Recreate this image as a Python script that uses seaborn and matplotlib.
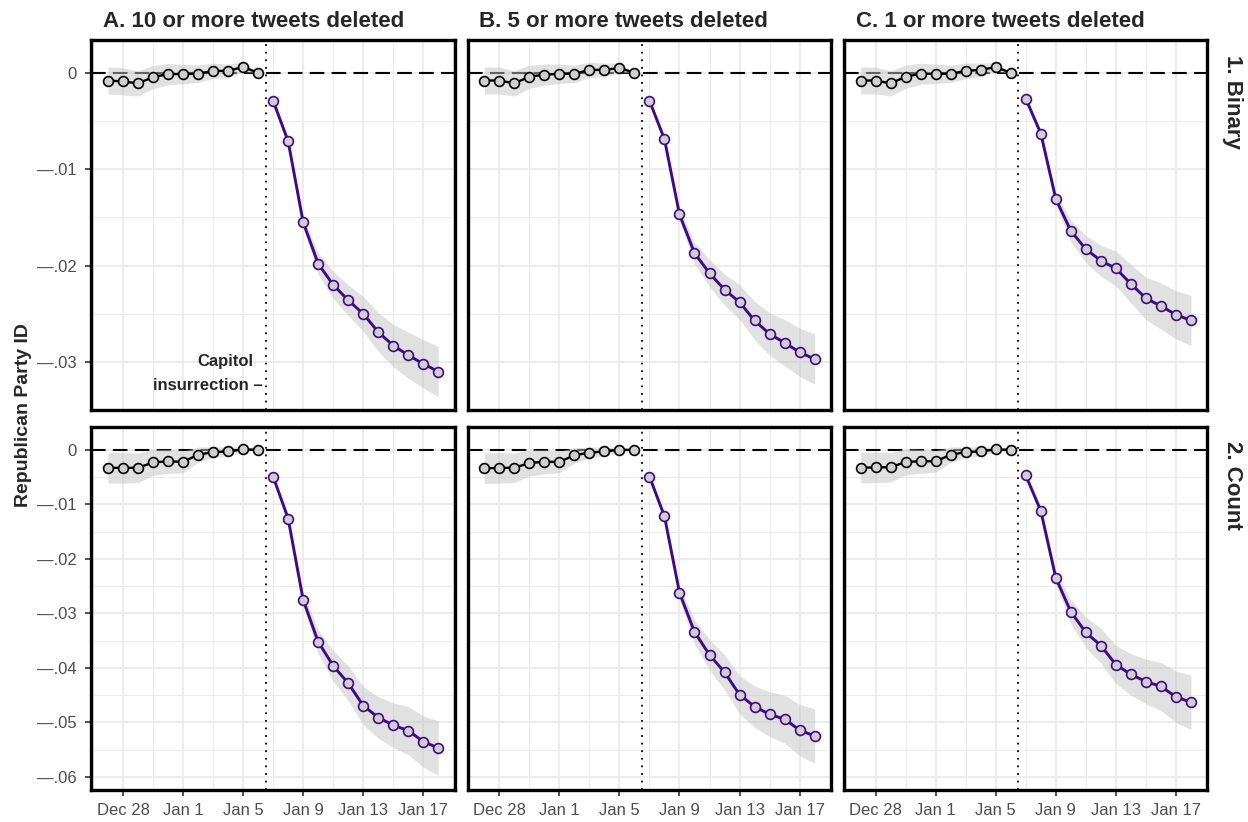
import matplotlib
matplotlib.use('Agg')
import matplotlib.pyplot as plt
import numpy as np
import pandas as pd
import seaborn as sns

# ---- data -------------------------------------------------------------
pre_dates = pd.date_range('2020-12-27', '2021-01-06')
post_dates = pd.date_range('2021-01-07', '2021-01-18')

col_titles = ['A. 10 or more tweets deleted', 'B. 5 or more tweets deleted', 'C. 1 or more tweets deleted']
row_titles = ['1. Binary', '2. Count']

# 1. Binary, pre-period (Dec 27 - Jan 6)
pre_binary_10 = [-0.0008, -0.0009, -0.0011, -0.00045, -0.00013, -0.00013, -0.0001, 0.0002, 0.0002, 0.0006, 0.0]
pre_binary_5 = [-0.0008, -0.0008, -0.0011, -0.0004, -0.0002, -0.0001, -0.0001, 0.0003, 0.0003, 0.0005, 0.0]
pre_binary_1 = [-0.0008, -0.0008, -0.0011, -0.0004, -0.0001, -0.0001, -0.0001, 0.0002, 0.0003, 0.0006, 0.0]
# 1. Binary, post-period (Jan 7 - Jan 18)
post_binary_10 = [-0.0029, -0.0071, -0.0155, -0.0198, -0.0220, -0.0236, -0.0250, -0.0269, -0.0283, -0.0293, -0.0302, -0.0310]
post_binary_5 = [-0.0029, -0.0069, -0.0147, -0.0187, -0.0208, -0.0225, -0.0238, -0.0257, -0.0271, -0.0280, -0.0290, -0.0297]
post_binary_1 = [-0.0027, -0.0063, -0.0131, -0.0164, -0.0183, -0.0195, -0.0203, -0.0219, -0.0234, -0.0242, -0.0251, -0.0257]

# 2. Count
pre_count_10 = [-0.0033, -0.0033, -0.0033, -0.0023, -0.0021, -0.0022, -0.0009, -0.0004, -0.0003, 0.0001, 0.0]
pre_count_5 = [-0.0034, -0.0033, -0.0033, -0.0024, -0.0022, -0.0022, -0.0010, -0.0005, -0.0003, 0.0000, 0.0]
pre_count_1 = [-0.0033, -0.0032, -0.0032, -0.0022, -0.0021, -0.0021, -0.0009, -0.0004, -0.0003, 0.0001, 0.0]
post_count_10 = [-0.0049, -0.0126, -0.0275, -0.0352, -0.0396, -0.0428, -0.0469, -0.0491, -0.0505, -0.0515, -0.0535, -0.0547]
post_count_5 = [-0.0049, -0.0122, -0.0262, -0.0334, -0.0376, -0.0408, -0.0449, -0.0471, -0.0485, -0.0494, -0.0514, -0.0525]
post_count_1 = [-0.0047, -0.0112, -0.0235, -0.0297, -0.0335, -0.0359, -0.0394, -0.0412, -0.0425, -0.0434, -0.0453, -0.0463]

# half-width of the 95% CI band
pre_ci_binary = [0.0014, 0.0014, 0.0013, 0.0012, 0.0011, 0.0010, 0.0009, 0.0008, 0.0007, 0.0005, 0.0]
post_ci_binary = [0.0002, 0.0004, 0.0006, 0.0011, 0.0014, 0.0016, 0.0018, 0.0020, 0.0022, 0.0024, 0.0025, 0.0026]
pre_ci_count = [0.0028, 0.0028, 0.0027, 0.0024, 0.0022, 0.0020, 0.0014, 0.0010, 0.0008, 0.0005, 0.0]
post_ci_count = [0.0004, 0.0008, 0.0012, 0.0022, 0.0028, 0.0032, 0.0035, 0.0038, 0.0041, 0.0044, 0.0047, 0.0050]

pre_vals = [[pre_binary_10, pre_binary_5, pre_binary_1], [pre_count_10, pre_count_5, pre_count_1]]
post_vals = [[post_binary_10, post_binary_5, post_binary_1], [post_count_10, post_count_5, post_count_1]]
pre_ci = [pre_ci_binary, pre_ci_count]
post_ci = [post_ci_binary, post_ci_count]

x_ticks = pd.to_datetime(['2020-12-28', '2021-01-01', '2021-01-05', '2021-01-09', '2021-01-13', '2021-01-17'])
x_minor = pd.to_datetime(['2020-12-26', '2020-12-30', '2021-01-03', '2021-01-07', '2021-01-11', '2021-01-15', '2021-01-19'])
x_labels = ['Dec 28', 'Jan 1', 'Jan 5', 'Jan 9', 'Jan 13', 'Jan 17']
y_ticks = [[0, -0.01, -0.02, -0.03], [0, -0.01, -0.02, -0.03, -0.04, -0.05, -0.06]]
y_labels = [['0', '\u2014.01', '\u2014.02', '\u2014.03'],
            ['0', '\u2014.01', '\u2014.02', '\u2014.03', '\u2014.04', '\u2014.05', '\u2014.06']]
y_limits = [(-0.0350, 0.0034), (-0.0624, 0.0042)]

rows = []
for r, measure in enumerate(row_titles):
    for c, thr in enumerate(col_titles):
        for d, v, h in zip(pre_dates, pre_vals[r][c], pre_ci[r]):
            rows.append(dict(date=d, est=v, lo=v - h, hi=v + h, period='pre', row=r, col=c))
        for d, v, h in zip(post_dates, post_vals[r][c], post_ci[r]):
            rows.append(dict(date=d, est=v, lo=v - h, hi=v + h, period='post', row=r, col=c))
df = pd.DataFrame(rows)

# ---- style ------------------------------------------------------------
sns.set_style('white')
plt.rcParams['font.family'] = ['Liberation Sans', 'DejaVu Sans']

purple = '#3f0a85'
marker_fill = '#cfcfcf'
grid_col = '#ebebeb'
event = pd.Timestamp('2021-01-06 12:00')

fig, axes = plt.subplots(2, 3, figsize=(12.48, 8.22), dpi=100, sharex=True, sharey='row',
                         gridspec_kw={'height_ratios': [370, 363]})
fig.subplots_adjust(left=0.0733, right=0.9675, top=0.9513, bottom=0.0389, wspace=0.036, hspace=0.046)

for r in range(2):
    for c in range(3):
        ax = axes[r, c]
        sub = df[(df['row'] == r) & (df['col'] == c)]
        pre = sub[sub['period'] == 'pre']
        post = sub[sub['period'] == 'post']

        ax.set_axisbelow(True)
        ax.grid(which='major', color=grid_col, lw=1.3, zorder=0)
        ax.grid(which='minor', color=grid_col, lw=0.7, zorder=0)

        ax.axhline(0, color='black', lw=1.5, ls=(0, (7, 3.5)), zorder=1)
        ax.axvline(event, color='black', lw=1.3, ls=(0, (1, 3.2)), zorder=1)
        ax.fill_between(pre['date'], pre['lo'], pre['hi'], color='#c4c4c4', alpha=0.5, lw=0, zorder=2)
        ax.fill_between(post['date'], post['lo'], post['hi'], color='#c4c4c4', alpha=0.5, lw=0, zorder=2)

        sns.lineplot(data=pre, x='date', y='est', ax=ax, color='black', lw=1.7, zorder=3)
        sns.lineplot(data=post, x='date', y='est', ax=ax, color=purple, lw=2.1, zorder=3)
        sns.scatterplot(data=pre, x='date', y='est', ax=ax, color=marker_fill, edgecolor='black',
                        linewidth=1.2, s=50, zorder=4)
        sns.scatterplot(data=post, x='date', y='est', ax=ax, color=marker_fill, edgecolor=purple,
                        linewidth=1.2, s=50, zorder=4)

        ax.set_xlim(pd.Timestamp('2020-12-25 21:36'), pd.Timestamp('2021-01-19 02:24'))
        ax.set_ylim(*y_limits[r])
        ax.set_xticks(x_ticks)
        ax.set_xticks(x_minor, minor=True)
        ax.set_yticks(y_ticks[r])
        ax.set_yticks(np.arange(0.0, y_limits[r][0], -0.005), minor=True)
        ax.set_xticklabels(x_labels)
        ax.set_yticklabels(y_labels[r])
        ax.set_xlabel(None)
        ax.set_ylabel(None)

        for side in ax.spines.values():
            side.set_color('black')
            side.set_linewidth(2.4)
        ax.tick_params(which='major', direction='out', length=4, width=1.2, color='#333333',
                       labelsize=12, labelcolor='#4d4d4d',
                       left=(c == 0), bottom=(r == 1), labelleft=(c == 0), labelbottom=(r == 1))
        ax.tick_params(axis='y', pad=6.5)
        ax.tick_params(axis='x', pad=5.5)
        ax.tick_params(which='minor', length=0)

        if r == 0:
            ax.text(0.032, 1.035, col_titles[c], transform=ax.transAxes, ha='left', va='baseline',
                    fontsize=16, fontweight='bold')
        if c == 2:
            ax.text(1.068, 0.96, row_titles[r], transform=ax.transAxes, ha='center', va='top',
                    rotation=-90, fontsize=16, fontweight='bold')

axes[0, 0].text(pd.Timestamp('2021-01-05 17:00'), -0.0300, 'Capitol', ha='right', va='center',
                fontsize=12, fontweight='bold')
axes[0, 0].text(pd.Timestamp('2021-01-06 06:30'), -0.0324, 'insurrection \u2013', ha='right', va='center',
                fontsize=12, fontweight='bold')

fig.text(0.0185, 0.495, 'Republican Party ID', rotation=90, ha='center', va='center',
         fontsize=14, fontweight='bold')

fig.savefig('out.png', dpi=100)
